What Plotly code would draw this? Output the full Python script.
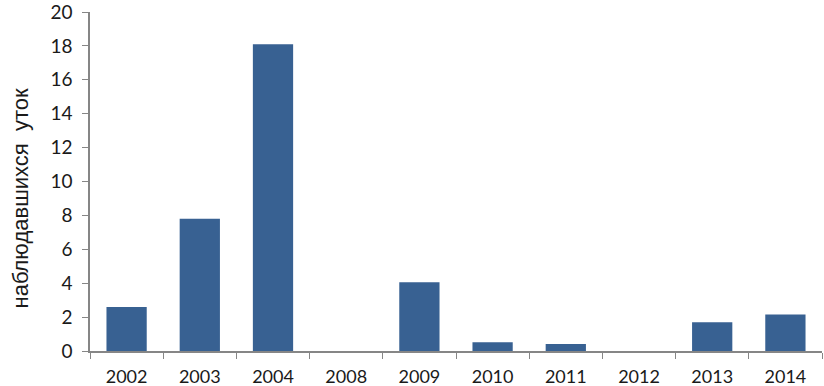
import plotly.graph_objects as go

years = ["2002", "2003", "2004", "2008", "2009", "2010", "2011", "2012", "2013", "2014"]
values = [2.6, 7.8, 18.1, 0, 4.05, 0.52, 0.42, 0, 1.7, 2.15]
y_ticks = [0, 2, 4, 6, 8, 10, 12, 14, 16, 18, 20]
y_title = "наблюдавшихся  уток"

fig = go.Figure(go.Bar(
    x=years, y=values,
    marker=dict(color="#386192", line=dict(width=0)),
))

fig.update_layout(
    width=824, height=386,
    margin=dict(l=90, r=2, t=12, b=35),
    paper_bgcolor="white", plot_bgcolor="white",
    bargap=0.45,
    showlegend=False,
    font=dict(family="Lato", color="#1a1a1a"),
)
fig.update_xaxes(
    type="category",
    showline=True, linecolor="#868686", linewidth=1.5,
    ticks="outside", tickcolor="#868686", ticklen=6, tickson="boundaries",
    tickfont=dict(size=18, family="Lato"),
    ticklabelstandoff=9,
    automargin=False,
    showgrid=False,
)
fig.update_yaxes(
    range=[0, 20.0001], tickvals=y_ticks,
    showline=True, linecolor="#868686", linewidth=1.5,
    ticks="outside", tickcolor="#868686", ticklen=6,
    tickfont=dict(size=19, family="Lato"),
    ticklabelstandoff=6,
    ticklabeloverflow="allow",
    automargin=False,
    showgrid=False, zeroline=False,
)
fig.add_annotation(
    text=y_title, xref="paper", yref="paper",
    x=-0.0956, y=0.45, textangle=-90, showarrow=False,
    font=dict(size=22, family="Liberation Sans", color="#1a1a1a"),
    xanchor="center", yanchor="middle",
)
fig.write_html(
    "out.html",
    config={"displayModeBar": False},
    post_script="document.body.style.margin='0';document.body.style.overflow='hidden';",
)
